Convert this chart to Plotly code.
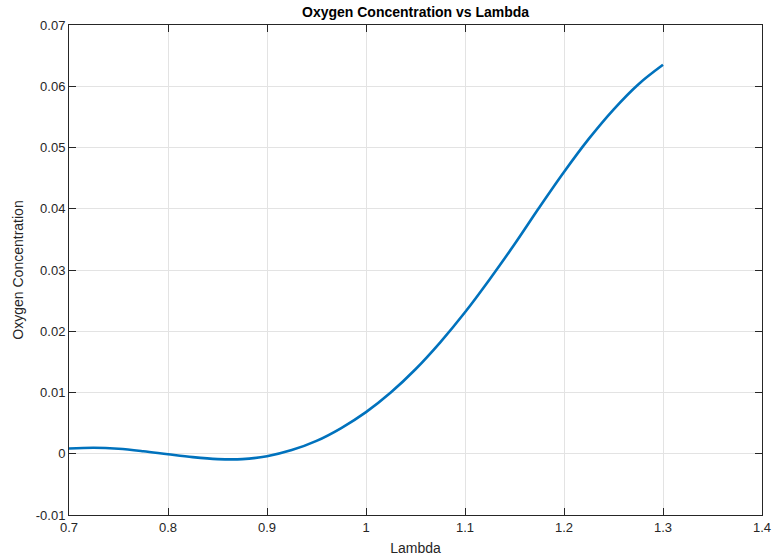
import plotly.graph_objects as go

# Oxygen concentration sampled over lambda
lambda_vals = [0.70, 0.725, 0.75, 0.775, 0.80, 0.825, 0.85, 0.875, 0.90, 0.925,
               0.95, 0.975, 1.00, 1.025, 1.05, 1.075, 1.10, 1.125, 1.15, 1.175,
               1.20, 1.225, 1.25, 1.275, 1.30]
oxygen_vals = [0.00085, 0.00098, 0.00082, 0.00042, -0.00008, -0.00055, -0.00087, -0.00088,
               -0.00040, 0.00060, 0.00210, 0.00420, 0.00680, 0.01000, 0.01380, 0.01820,
               0.02310, 0.02850, 0.03420, 0.04020, 0.04600, 0.05140, 0.05620, 0.06030,
               0.06350]

x_ticks = [0.7, 0.8, 0.9, 1.0, 1.1, 1.2, 1.3, 1.4]
x_tick_text = ["0.7", "0.8", "0.9", "1", "1.1", "1.2", "1.3", "1.4"]
y_ticks = [-0.01, 0, 0.01, 0.02, 0.03, 0.04, 0.05, 0.06, 0.07]
y_tick_text = ["-0.01", "0", "0.01", "0.02", "0.03", "0.04", "0.05", "0.06", "0.07"]

font_family = "Liberation Sans, Arial, Helvetica, sans-serif"
axis_color = "#262626"
grid_color = "#e3e3e3"

fig = go.Figure()
fig.add_trace(go.Scatter(
    x=lambda_vals, y=oxygen_vals, mode="lines",
    line=dict(color="#0072BD", width=2.6, shape="spline", smoothing=1.0),
    showlegend=False,
))

axis_common = dict(
    showline=True, linecolor=axis_color, linewidth=1, mirror="ticks",
    ticks="inside", ticklen=7, tickwidth=1, tickcolor=axis_color,
    showgrid=True, gridcolor=grid_color, gridwidth=1, zeroline=False,
    automargin=False,
    tickfont=dict(family=font_family, size=13, color=axis_color),
)

fig.update_xaxes(
    range=[0.7, 1.4], tickvals=x_ticks, ticktext=x_tick_text,
    title=dict(text="Lambda", font=dict(family=font_family, size=14, color=axis_color), standoff=9),
    **axis_common,
)
fig.update_yaxes(
    range=[-0.01, 0.07], tickvals=y_ticks, ticktext=y_tick_text,
    title=dict(text="Oxygen Concentration", font=dict(family=font_family, size=14, color=axis_color), standoff=8),
    **axis_common,
)

fig.add_annotation(
    text="<b>Oxygen Concentration vs Lambda</b>", xref="paper", yref="paper",
    x=0.5, y=1, yanchor="bottom", xanchor="center", yshift=3, showarrow=False,
    font=dict(family=font_family, size=14, color="#000000"),
)

fig.update_layout(
    width=773, height=560,
    margin=dict(l=69, r=11, t=25, b=45),
    paper_bgcolor="white", plot_bgcolor="white",
)

fig.write_html("out.html")
